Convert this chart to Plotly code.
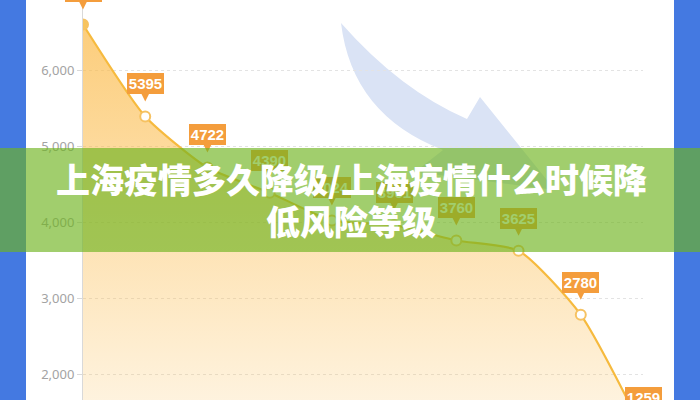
import plotly.graph_objects as go

# ---- data ----
categories = ["5月1日", "5月2日", "5月3日", "5月4日", "5月5日",
              "5月6日", "5月7日", "5月8日", "5月9日", "5月10日"]
cases = [6606, 5395, 4722, 4390, 4024, 3961, 3760, 3625, 2780, 1259]
title_line1 = "上海疫情多久降级/上海疫情什么时候降"
title_line2 = "低风险等级"

# ---- geometry helpers (pixels -> paper) ----
W, H = 700, 400
ML, MR = 83, 57
PW = W - ML - MR


def px_x(px):
    return (px - ML) / PW


def px_y(py):
    return 1 - py / H


LABEL_OFFSET = 430  # label centre above point, in axis units (~33px)
ORANGE = "#F49D3C"
LABEL_FONT = "Liberation Sans, Arial, sans-serif"

fig = go.Figure()

fig.add_trace(go.Scatter(
    x=categories, y=cases, mode="lines+markers",
    line=dict(color="#F6BA3E", width=2.2, shape="spline", smoothing=0.6),
    marker=dict(size=10,
                color=["#F7C45E"] + ["#FFFFFF"] * (len(cases) - 1),
                line=dict(color="#F6C262", width=2)),
    fill="tozeroy",
    fillgradient=dict(type="vertical",
                      colorscale=[[0, "rgba(251,186,72,0)"],
                                  [1, "rgba(251,186,72,0.72)"]],
                      start=0, stop=max(cases)),
    hoverinfo="skip",
    showlegend=False,
))

# value labels
for c, v in zip(categories, cases):
    fig.add_annotation(
        x=c, y=v, xref="x", yref="y",
        text=str(v), showarrow=True,
        axref="pixel", ax=0, ayref="y", ay=v + LABEL_OFFSET,
        arrowhead=2, arrowsize=1.6, arrowwidth=1, arrowcolor=ORANGE,
        standoff=15,
        bgcolor=ORANGE, borderpad=1.8, borderwidth=0,
        font=dict(family=LABEL_FONT, size=15, color="white", weight="bold"),
    )

# green banner (annotation so it sits above the value labels)
fig.add_annotation(
    xref="paper", yref="paper", x=px_x(350), y=px_y(200),
    xanchor="center", yanchor="middle",
    text=" ", showarrow=False, width=720, height=104,
    bgcolor="rgba(110,180,30,0.65)", borderpad=0, borderwidth=0,
)
for txt, cy in [(title_line1, 178), (title_line2, 220)]:
    fig.add_annotation(
        xref="paper", yref="paper", x=px_x(351), y=px_y(cy),
        xanchor="center", yanchor="middle",
        text=txt, showarrow=False,
        font=dict(family="Noto Sans CJK SC", size=34, color="white", weight=900),
    )

# blue side bars
shapes = [
    dict(type="rect", xref="paper", yref="paper", x0=px_x(-2), x1=px_x(26), y0=-0.01, y1=1.01,
         fillcolor="#4479E1", line=dict(width=0), layer="above"),
    dict(type="rect", xref="paper", yref="paper", x0=px_x(674), x1=px_x(702), y0=-0.01, y1=1.01,
         fillcolor="#4479E1", line=dict(width=0), layer="above"),
]


# decorative pale blue arrow
def P(x, y):
    return f"{px_x(x):.5f},{px_y(y):.5f}"


arrow_path = (f"M {P(341,23)} Q {P(400,90)} {P(467,119)} L {P(480,97)} "
              f"L {P(555,190)} L {P(415,172)} L {P(443,150)} "
              f"Q {P(352,115)} {P(341,23)} Z")
shapes.append(dict(type="path", xref="paper", yref="paper", path=arrow_path,
                   fillcolor="rgb(218,227,245)", line=dict(width=0), layer="below"))

fig.update_layout(
    template="none",
    width=W, height=H,
    margin=dict(l=ML, r=MR, t=0, b=0, pad=0),
    paper_bgcolor="white", plot_bgcolor="white",
    shapes=shapes,
    showlegend=False,
    hovermode=False,
    xaxis=dict(type="category", range=[0, len(categories) - 1],
               showgrid=False, zeroline=False, showline=False,
               showticklabels=False, ticks="", automargin=False),
    yaxis=dict(range=[1657.3, 6929.2], dtick=1000, tickformat=",",
               showgrid=True, gridcolor="#E3E3E3", griddash="dot", gridwidth=1,
               zeroline=False, showline=True, linecolor="#D9D9D9", linewidth=1,
               ticks="outside", ticklen=5, tickcolor="#D9D9D9",
               tickfont=dict(family="Noto Sans", size=13, color="#A3A3A3"),
               automargin=False),
)

fig.write_html(
    "out.html",
    config={"displayModeBar": False, "staticPlot": True},
    post_script="document.body.style.margin='0';document.body.style.overflow='hidden';",
)
